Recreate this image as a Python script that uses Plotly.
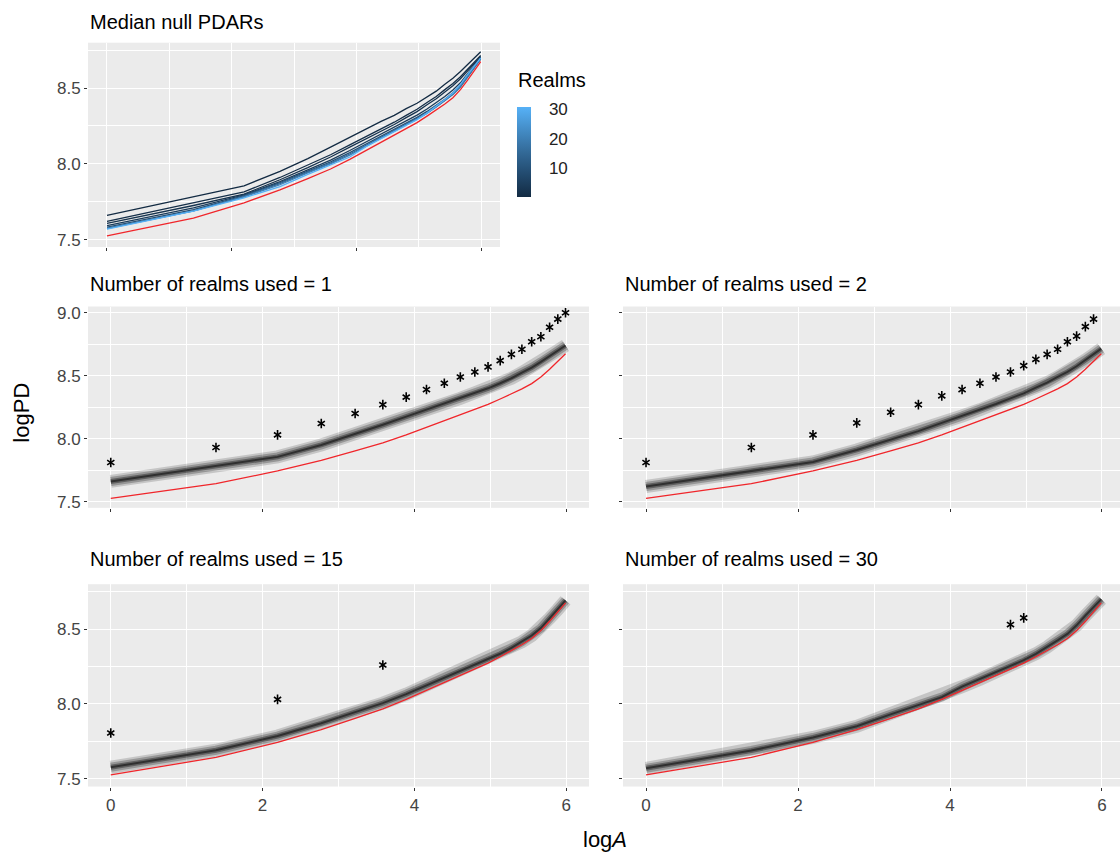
import plotly.graph_objects as go

W, H = 1120, 859

# ---------------- data ----------------
log_area = [0.0, 1.386, 2.197, 2.773, 3.219, 3.584, 3.892, 4.159, 4.394, 4.605,
            4.796, 4.970, 5.130, 5.278, 5.416, 5.545, 5.666, 5.781, 5.889, 5.991]

observed_pd = [7.525, 7.642, 7.743, 7.828, 7.903, 7.966, 8.030, 8.090, 8.138, 8.185,
               8.230, 8.272, 8.315, 8.355, 8.395, 8.437, 8.490, 8.552, 8.615, 8.675]

median_r1 = [7.660, 7.780, 7.855, 7.950, 8.035, 8.110, 8.175, 8.230, 8.280, 8.320,
             8.365, 8.400, 8.440, 8.480, 8.525, 8.565, 8.610, 8.655, 8.700, 8.740]
median_r2 = [7.620, 7.740, 7.815, 7.910, 7.990, 8.060, 8.125, 8.180, 8.230, 8.275,
             8.320, 8.360, 8.405, 8.445, 8.490, 8.530, 8.575, 8.625, 8.670, 8.715]
median_r3 = [7.607, 7.725, 7.800, 7.895, 7.975, 8.045, 8.110, 8.165, 8.215, 8.260,
             8.305, 8.345, 8.390, 8.430, 8.475, 8.515, 8.562, 8.612, 8.660, 8.708]
median_r5 = [7.592, 7.710, 7.795, 7.883, 7.960, 8.025, 8.088, 8.145, 8.195, 8.240,
             8.282, 8.322, 8.362, 8.402, 8.445, 8.487, 8.535, 8.595, 8.650, 8.703]
median_r10 = [7.582, 7.698, 7.790, 7.876, 7.952, 8.013, 8.074, 8.132, 8.181, 8.226,
              8.267, 8.307, 8.346, 8.386, 8.427, 8.469, 8.518, 8.580, 8.638, 8.697]
median_r15 = [7.576, 7.690, 7.785, 7.870, 7.945, 8.005, 8.065, 8.123, 8.172, 8.217,
              8.257, 8.297, 8.335, 8.375, 8.415, 8.457, 8.507, 8.572, 8.632, 8.692]
median_r20 = [7.573, 7.689, 7.782, 7.862, 7.940, 8.000, 8.058, 8.120, 8.170, 8.215,
              8.255, 8.295, 8.335, 8.377, 8.419, 8.462, 8.515, 8.580, 8.638, 8.695]
median_r30 = [7.569, 7.688, 7.775, 7.850, 7.930, 7.990, 8.045, 8.115, 8.165, 8.210,
              8.252, 8.292, 8.335, 8.380, 8.425, 8.468, 8.525, 8.590, 8.645, 8.700]

realm_counts = [1, 2, 3, 5, 10, 15, 20, 30]
realm_medians = [median_r1, median_r2, median_r3, median_r5, median_r10,
                 median_r15, median_r20, median_r30]

# significance asterisks per facet
stars_r1_x = log_area
stars_r1_y = [7.81, 7.93, 8.03, 8.12, 8.20, 8.27, 8.33, 8.39, 8.44, 8.49,
              8.53, 8.57, 8.62, 8.67, 8.71, 8.77, 8.81, 8.885, 8.95, 9.00]
stars_r2_x = log_area[:19]
stars_r2_y = [7.81, 7.93, 8.03, 8.125, 8.21, 8.27, 8.34, 8.39, 8.44, 8.49,
              8.53, 8.58, 8.63, 8.67, 8.71, 8.77, 8.815, 8.89, 8.95]
stars_r15_x = [0.0, 2.197, 3.584]
stars_r15_y = [7.805, 8.03, 8.26]
stars_r30_x = [4.796, 4.970]
stars_r30_y = [8.53, 8.575]

facet_realms = [1, 2, 15, 30]
facet_medians = [median_r1, median_r2, median_r15, median_r30]
facet_stars = [(stars_r1_x, stars_r1_y), (stars_r2_x, stars_r2_y),
               (stars_r15_x, stars_r15_y), (stars_r30_x, stars_r30_y)]

x_ticks = [0, 2, 4, 6]
color_ticks = [10, 20, 30]

# ---------------- style helpers ----------------
FONT = "Liberation Sans, Arial, Helvetica, sans-serif"
stops = [(0.0, (0x13, 0x2B, 0x43)), (0.25, (0x22, 0x4A, 0x6E)), (0.5, (0x33, 0x6A, 0x98)),
         (0.75, (0x44, 0x8D, 0xC7)), (1.0, (0x56, 0xB1, 0xF7))]


def realm_color(r):
    t = (r - 1) / 29.0
    for (t0, c0), (t1, c1) in zip(stops[:-1], stops[1:]):
        if t <= t1:
            f = (t - t0) / (t1 - t0)
            c = [round(a + (b - a) * f) for a, b in zip(c0, c1)]
            return "rgb(%d,%d,%d)" % tuple(c)
    return "rgb(86,177,247)"


def px_x(p):
    return p / W


def px_y(p):
    return 1 - p / H


fig = go.Figure()

# axes: 1 = top panel, 2 = realms 1, 3 = realms 2, 4 = realms 15, 5 = realms 30
panels = {
    1: dict(x=(88, 500), y=(40, 246), xr=[-0.304, 6.3], yr=[7.451, 8.80], xlab=False, ylab=True),
    2: dict(x=(88, 589), y=(306, 509), xr=[-0.3, 6.3], yr=[7.45, 9.05], xlab=False, ylab=True),
    3: dict(x=(623, 1120), y=(306, 509), xr=[-0.303, 6.237], yr=[7.45, 9.05], xlab=False, ylab=False),
    4: dict(x=(88, 589), y=(586, 790), xr=[-0.3, 6.3], yr=[7.447, 8.80], xlab=True, ylab=True),
    5: dict(x=(623, 1120), y=(586, 790), xr=[-0.303, 6.237], yr=[7.447, 8.80], xlab=True, ylab=False),
}

layout_axes = {}
for i, p in panels.items():
    sx = "" if i == 1 else str(i)
    layout_axes["xaxis" + sx] = dict(
        domain=[px_x(p["x"][0]), px_x(p["x"][1])], range=p["xr"], anchor="y" + sx,
        tickvals=x_ticks, showticklabels=p["xlab"], ticks="outside", ticklen=3,
        tickcolor="#333333", tickwidth=1, showgrid=True, gridcolor="white", gridwidth=1.3,
        minor=dict(dtick=1, tick0=0, showgrid=True, gridcolor="white", gridwidth=0.6, ticks=""),
        zeroline=False, showline=False, tickfont=dict(family=FONT, size=17, color="#444444"),
        fixedrange=True)
    layout_axes["yaxis" + sx] = dict(
        domain=[px_y(p["y"][1]), px_y(p["y"][0])], range=p["yr"], anchor="x" + sx,
        tickvals=[7.5, 8.0, 8.5, 9.0], ticktext=["7.5", "8.0", "8.5", "9.0"],
        showticklabels=p["ylab"], ticks="outside", ticklen=3,
        tickcolor="#333333", tickwidth=1, showgrid=True, gridcolor="white", gridwidth=1.3,
        minor=dict(dtick=0.25, tick0=7.25, showgrid=True, gridcolor="white", gridwidth=0.6, ticks=""),
        zeroline=False, showline=False, tickfont=dict(family=FONT, size=17, color="#444444"),
        fixedrange=True)

# ---------------- top panel: median null curves per realm count ----------------
for r, med in zip(realm_counts, realm_medians):
    fig.add_trace(go.Scatter(x=log_area, y=med, mode="lines", xaxis="x", yaxis="y",
                             line=dict(color=realm_color(r), width=1.3), showlegend=False,
                             hoverinfo="skip"))
fig.add_trace(go.Scatter(x=log_area, y=observed_pd, mode="lines", xaxis="x", yaxis="y",
                         line=dict(color="#F0262B", width=1.3), showlegend=False,
                         hoverinfo="skip"))

# colour bar (legend "Realms")
fig.add_trace(go.Scatter(
    x=[None], y=[None], mode="markers", xaxis="x", yaxis="y", showlegend=False,
    marker=dict(color=[1], cmin=0.24, cmax=30.76, showscale=True,
                colorscale=[[0.0, "#132B43"], [0.25, "#224A6E"], [0.5, "#336A98"],
                            [0.75, "#448DC7"], [1.0, "#56B1F7"]],
                colorbar=dict(x=px_x(517), xanchor="left", y=px_y(150.5), yanchor="middle",
                              len=91 / H, lenmode="fraction", thickness=14, xpad=0, ypad=0,
                              outlinewidth=0, tickvals=color_ticks, ticks="outside", ticklen=15,
                              tickcolor="rgba(0,0,0,0)",
                              tickfont=dict(family=FONT, size=17, color="#222222"))),
    hoverinfo="skip"))

# ---------------- facet panels ----------------
for ax, r, med, (sx_, sy_) in zip([2, 3, 4, 5], facet_realms, facet_medians, facet_stars):
    xa, ya = "x%d" % ax, "y%d" % ax
    for w, a in [(13, 0.16), (9, 0.24), (5, 0.36), (2, 0.5)]:
        fig.add_trace(go.Scatter(x=log_area, y=med, mode="lines", xaxis=xa, yaxis=ya,
                                 line=dict(color="rgba(0,0,0,%.2f)" % a, width=w),
                                 showlegend=False, hoverinfo="skip"))
    fig.add_trace(go.Scatter(x=log_area, y=observed_pd, mode="lines", xaxis=xa, yaxis=ya,
                             line=dict(color="#F0262B", width=1.3), showlegend=False,
                             hoverinfo="skip"))
    for sym in ["y-up-open", "y-down-open"]:
        fig.add_trace(go.Scatter(x=sx_, y=sy_, mode="markers", xaxis=xa, yaxis=ya,
                                 marker=dict(symbol=sym, size=6, color="black",
                                             line=dict(color="black", width=1.6)),
                                 showlegend=False, hoverinfo="skip", cliponaxis=False))

# ---------------- titles ----------------
ann = []
titles = [("Median null PDARs", 88, 19),
          ("Number of realms used = 1", 88, 283),
          ("Number of realms used = 2", 623, 283),
          ("Number of realms used = 15", 88, 561),
          ("Number of realms used = 30", 623, 561)]
for t, x, y in titles:
    ann.append(dict(text=t, x=px_x(x), y=px_y(y), xref="paper", yref="paper",
                    xanchor="left", yanchor="middle", showarrow=False,
                    font=dict(family=FONT, size=20, color="black")))
ann.append(dict(text="Realms", x=px_x(516), y=px_y(78), xref="paper", yref="paper",
                xanchor="left", yanchor="middle", showarrow=False,
                font=dict(family=FONT, size=20, color="black")))
ann.append(dict(text="logPD", x=px_x(22), y=px_y(413), xref="paper", yref="paper",
                xanchor="center", yanchor="middle", textangle=-90, showarrow=False,
                font=dict(family=FONT, size=22, color="black")))
ann.append(dict(text="log<i>A</i>", x=px_x(605), y=px_y(843), xref="paper", yref="paper",
                xanchor="center", yanchor="middle", showarrow=False,
                font=dict(family=FONT, size=22, color="black")))

fig.update_layout(
    width=W, height=H, margin=dict(l=0, r=0, t=0, b=0),
    paper_bgcolor="white", plot_bgcolor="#EBEBEB",
    annotations=ann, showlegend=False, **layout_axes)

fig.write_html("out.html", config={"displayModeBar": False},
               post_script="document.body.style.margin='0px';")
